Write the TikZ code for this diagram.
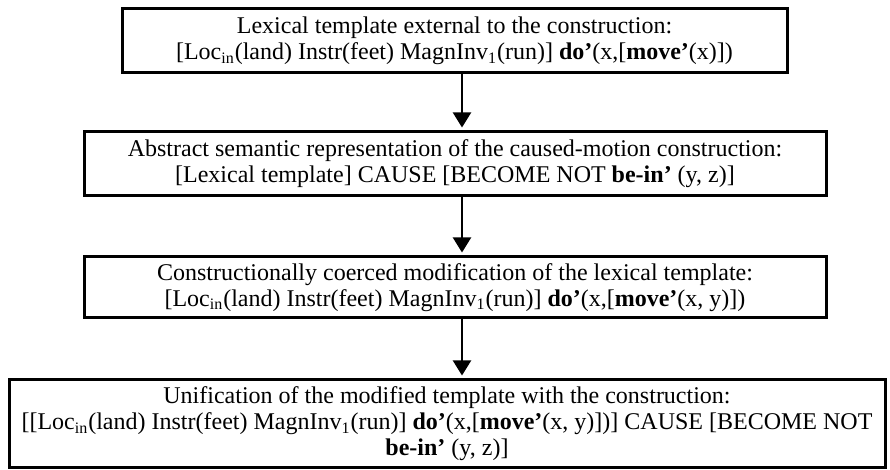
\documentclass[tikz,border=0pt]{standalone}
\usepackage{fontspec}
\setmainfont{Liberation Serif}
\usepackage{tikz}
\usetikzlibrary{arrows.meta,calc}
\tikzstyle{stagebox}=[draw, line width=1.5pt, align=center, inner sep=0pt, font=\fontsize{12}{13}\selectfont]
\tikzstyle{flow}=[line width=1pt, shorten >=1.5pt, -{Triangle[width=9pt,length=7.5pt]}]
\newcommand{\Locin}{Loc\textsubscript{in}}
\newcommand{\MagnInvOne}{MagnInv\textsubscript{1}}

\begin{document}
\begin{tikzpicture}[x=0.5pt,y=-0.5pt]
	\useasboundingbox (0,0) rectangle (890,470);
	\node[stagebox, minimum width=332.5pt, minimum height=32pt] (lexTemp) at (454.5,41)
		{Lexical template external to the construction:\\
		{[}\Locin(land) Instr(feet) \MagnInvOne(run)] \textbf{do’}(x,[\textbf{move’}(x)])};
	\node[stagebox, minimum width=371pt, minimum height=32pt] (abstractRep) at (455,164)
		{Abstract semantic representation of the caused-motion construction:\\
		{[}Lexical template] CAUSE [BECOME NOT \textbf{be-in’} (y, z)]};
	\node[stagebox, minimum width=371pt, minimum height=30.5pt] (coerced) at (455,287.5)
		{Constructionally coerced modification of the lexical template:\\
		{[}\Locin(land) Instr(feet) \MagnInvOne(run)] \textbf{do’}(x,[\textbf{move’}(x, y)])};
	\node[stagebox, minimum width=438pt, minimum height=44pt] (unified) at (447,424)
		{Unification of the modified template with the construction:\\
		{[[}\Locin(land) Instr(feet) \MagnInvOne(run)] \textbf{do’}(x,[\textbf{move’}(x, y)])] CAUSE [BECOME NOT\\
		\textbf{be-in’} (y, z)]};
	% arrows between the stages
	\coordinate (spine) at (462,0);
	\draw[flow] (lexTemp.south -| spine) -- (abstractRep.north -| spine);
	\draw[flow] (abstractRep.south -| spine) -- (coerced.north -| spine);
	\draw[flow] (coerced.south -| spine) -- (unified.north -| spine);
\end{tikzpicture}
\end{document}
